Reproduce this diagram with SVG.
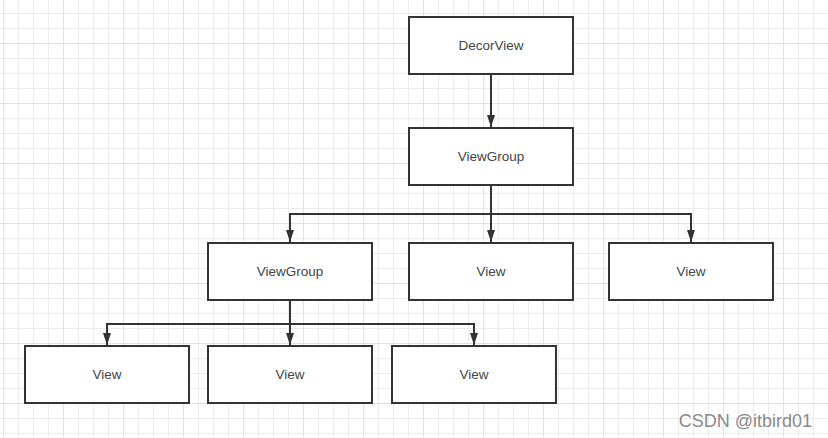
<svg xmlns="http://www.w3.org/2000/svg" width="828" height="438" viewBox="0 0 828 438">
<style>
.box{fill:#fff;stroke:#333;stroke-width:2}
.lbl{font-family:"Liberation Sans","Noto Sans",Arial,sans-serif;font-size:13.5px;fill:#444;text-anchor:middle;dominant-baseline:central}
.con{fill:none;stroke:#333;stroke-width:2}
.wm{font-family:"Liberation Sans",Arial,sans-serif;font-size:18px;fill:#8a8a8a;text-anchor:end}
</style>
<defs>
<pattern id="minor" patternUnits="userSpaceOnUse" x="3" y="13" width="15" height="15">
<path d="M0.5 0V15M0 0.5H15" stroke="#ececec" stroke-width="1" fill="none"/>
</pattern>
<pattern id="major" patternUnits="userSpaceOnUse" x="3" y="-17" width="60" height="60">
<path d="M0.5 0V60M0 0.5H60" stroke="#e2e2e2" stroke-width="1" fill="none"/>
</pattern>
<marker id="arr" markerUnits="userSpaceOnUse" viewBox="0 0 12 8" refX="12" refY="4" markerWidth="12" markerHeight="8" orient="auto">
<path d="M0 0L12 4L0 8Z" fill="#333"/>
</marker>
</defs>
<rect width="828" height="438" fill="#fff"/>
<rect width="828" height="438" fill="url(#minor)"/>
<rect width="828" height="438" fill="url(#major)"/>
<g id="connectors">
<path class="con" d="M491 74V127" marker-end="url(#arr)"/>
<path class="con" d="M491 185V242" marker-end="url(#arr)"/>
<path class="con" d="M491 214H290V242" marker-end="url(#arr)"/>
<path class="con" d="M491 214H691V242" marker-end="url(#arr)"/>
<path class="con" d="M290 300V345" marker-end="url(#arr)"/>
<path class="con" d="M290 324H107V345" marker-end="url(#arr)"/>
<path class="con" d="M290 324H474V345" marker-end="url(#arr)"/>
</g>
<g id="decorview"><rect class="box" x="409" y="17" width="164" height="57"/><text class="lbl" x="491" y="45.5">DecorView</text></g>
<g id="viewgroup1"><rect class="box" x="409" y="128" width="164" height="57"/><text class="lbl" x="491" y="156.5">ViewGroup</text></g>
<g id="viewgroup2"><rect class="box" x="208" y="243" width="164" height="57"/><text class="lbl" x="290" y="271.5">ViewGroup</text></g>
<g id="view1"><rect class="box" x="409" y="243" width="164" height="57"/><text class="lbl" x="491" y="271.5">View</text></g>
<g id="view2"><rect class="box" x="609" y="243" width="164" height="57"/><text class="lbl" x="691" y="271.5">View</text></g>
<g id="view3"><rect class="box" x="25" y="346" width="164" height="57"/><text class="lbl" x="107" y="374.5">View</text></g>
<g id="view4"><rect class="box" x="208" y="346" width="164" height="57"/><text class="lbl" x="290" y="374.5">View</text></g>
<g id="view5"><rect class="box" x="392" y="346" width="164" height="57"/><text class="lbl" x="474" y="374.5">View</text></g>
<text class="wm" x="812" y="427">CSDN @itbird01</text>
</svg>
